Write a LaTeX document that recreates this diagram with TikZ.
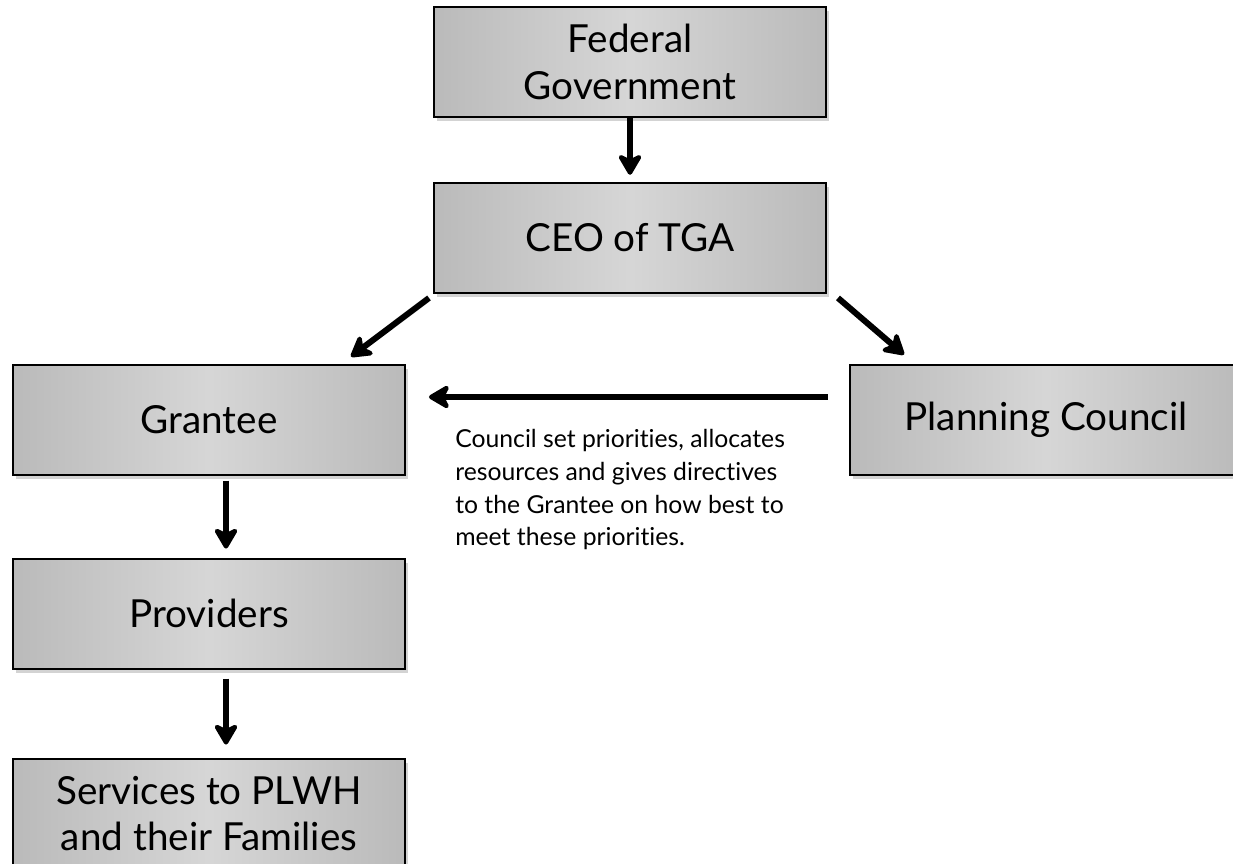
\documentclass[tikz,border=0pt]{standalone}
\usepackage{fontspec}
\setmainfont{Lato}[Ligatures=NoCommon]
\usepackage{tikz}
\usetikzlibrary{positioning,arrows.meta,shadows}

\begin{document}
\begin{tikzpicture}[
    orgbox/.style={draw=black, line width=1.4pt, left color=black!27, right color=black!27, middle color=black!16,
        drop shadow={shadow xshift=0.08cm, shadow yshift=-0.1cm, opacity=0.35},
        minimum width=9.8cm, minimum height=2.75cm, align=center,
        font=\fontsize{27.5}{33}\selectfont},
    flow/.style={line width=4.3pt, -{Stealth[length=0.62cm, width=0.72cm, inset=0.18cm, round]}}
  ]

        \useasboundingbox (0,0) rectangle (30.825,-21.6);

        % Boxes of the chain
        \node[orgbox] (fed_gov) at (15.75,-1.55) {Federal\\Government};
        \node[orgbox, below=1.6cm of fed_gov] (ceo) {CEO of TGA};
        \node[orgbox] (grantee) at (5.225,-10.49) {Grantee};
        \node[orgbox, right=11.075cm of grantee] (planning) {Planning Council};
        \node[orgbox, below=2.05cm of grantee] (providers) {Providers};
        \node[orgbox, below=2.2cm of providers] (services) {Services to PLWH\\and their Families};

        % Note under the council arrow
        \node[anchor=north west, align=left, inner sep=0pt, font=\fontsize{17.6}{23.4}\selectfont] (note) at (11.375,-10.72)
            {Council set priorities, allocates\\resources and gives directives\\to the Grantee on how best to\\meet these priorities.};

        % Connections
        \draw[flow] (fed_gov) -- ([yshift=0.18cm]ceo.north);
        \draw[flow] ([xshift=-0.1cm,yshift=-0.1cm]ceo.south west) -- ([xshift=-1.375cm,yshift=0.175cm]grantee.north east);
        \draw[flow] ([xshift=0.275cm,yshift=-0.1cm]ceo.south east) -- ([xshift=1.375cm,yshift=0.225cm]planning.north west);
        \draw[flow] ([xshift=-0.525cm,yshift=0.565cm]planning.west) -- ([xshift=0.575cm,yshift=0.565cm]grantee.east);
        \draw[flow] ([xshift=0.425cm,yshift=-0.125cm]grantee.south) -- ([xshift=0.425cm,yshift=0.225cm]providers.north);
        \draw[flow] ([xshift=0.425cm,yshift=-0.225cm]providers.south) -- ([xshift=0.425cm,yshift=0.325cm]services.north);

    \end{tikzpicture}
\end{document}
